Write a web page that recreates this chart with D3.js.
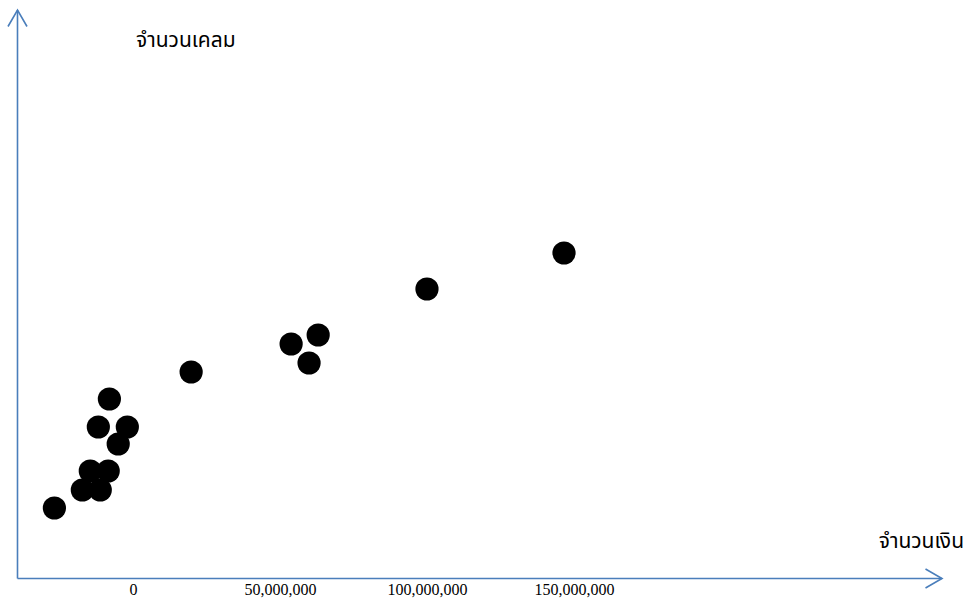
<!DOCTYPE html>
<html>
<head>
<meta charset="utf-8">
<script src="https://cdn.jsdelivr.net/npm/d3@7"></script>
<style>
  html, body { margin: 0; padding: 0; background: #fff; }
  svg { display: block; }
</style>
</head>
<body>
<svg id="chart" width="967" height="604"></svg>
<script>
// Data: amount of money (baht) vs number of claims
const amounts = [-26900000, -17400000, -14700000, -11300000, -8600000, -11960000, -2100000, -5200000, -8200000, 19600000, 53600000, 62800000, 59700000, 99800000, 146400000];
const claims  = [70, 88, 107, 88, 107, 151, 151, 134, 179, 206, 234, 243, 215, 289, 325];
const xTickValues = [0, 50000000, 100000000, 150000000];
const xTitle = "จำนวนเงิน";
const yTitle = "จำนวนเคลม";

const svg = d3.select("#chart");
const axisColor = "#4a7ebb";

// scales
const x = d3.scaleLinear().domain([0, 150000000]).range([133.5, 574.6]);
const y = d3.scaleLinear().domain([0, 568]).range([578, 10]);

const x0 = 17.5, y0 = 578.5, xEnd = 942, yTop = 10;

// axes lines with open arrowheads
svg.append("line").attr("x1", x0).attr("y1", y0).attr("x2", x0).attr("y2", yTop)
  .attr("stroke", axisColor).attr("stroke-width", 1.6);
svg.append("path").attr("d", `M${x0-9.5},${yTop+16.5} L${x0},${yTop} L${x0+9.5},${yTop+16.5}`)
  .attr("fill", "none").attr("stroke", axisColor).attr("stroke-width", 1.6);
svg.append("line").attr("x1", x0).attr("y1", y0).attr("x2", xEnd).attr("y2", y0)
  .attr("stroke", axisColor).attr("stroke-width", 1.6);
svg.append("path").attr("d", `M${xEnd-16.5},${y0-9.5} L${xEnd},${y0} L${xEnd-16.5},${y0+9.5}`)
  .attr("fill", "none").attr("stroke", axisColor).attr("stroke-width", 1.6);

// x tick labels (no tick marks)
const fmt = d3.format(",");
svg.append("g").selectAll("text").data(xTickValues).join("text")
  .attr("x", d => x(d)).attr("y", 595)
  .attr("text-anchor", "middle")
  .attr("font-family", "'Liberation Serif', 'Times New Roman', serif")
  .attr("font-size", 16)
  .attr("fill", "#000")
  .text(d => fmt(d));

// titles
const thaiFont = "Tahoma, 'Noto Sans Thai', 'Leelawadee UI', 'DejaVu Sans', 'Noto Sans', sans-serif";
svg.append("text").attr("x", 136).attr("y", 47)
  .attr("font-family", thaiFont).attr("font-size", 21).attr("fill", "#000")
  .text(yTitle);
svg.append("text").attr("x", 964).attr("y", 548).attr("text-anchor", "end")
  .attr("font-family", thaiFont).attr("font-size", 21).attr("fill", "#000")
  .text(xTitle);

// points
svg.append("g").selectAll("circle").data(amounts.map((a, i) => [a, claims[i]])).join("circle")
  .attr("cx", d => x(d[0])).attr("cy", d => y(d[1]))
  .attr("r", 11.6).attr("fill", "#000");
</script>
</body>
</html>
